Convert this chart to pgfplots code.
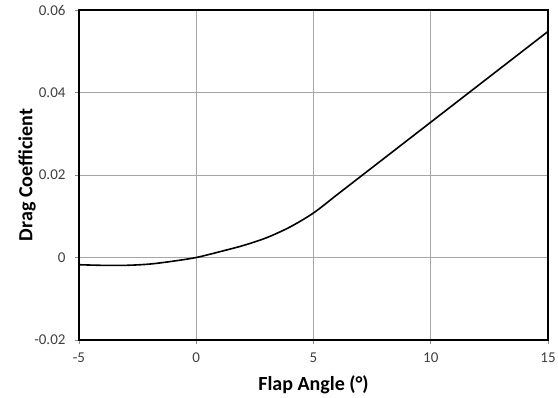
\documentclass[border=0pt]{standalone}
\usepackage{fontspec}
\setmainfont{Carlito}
\usepackage{pgfplots}
\pgfplotsset{compat=1.18}
\begin{document}
\begin{tikzpicture}
\useasboundingbox (-79bp,-58bp) rectangle (479bp,340bp);
\begin{axis}[
  scale only axis,
  width=469bp, height=330bp,
  xmin=-5, xmax=15, ymin=-0.02, ymax=0.06,
  xtick={-5,0,5,10,15},
  xticklabels={-5,0,5,10,15},
  ytick={-0.02,0,0.02,0.04,0.06},
  yticklabels={-0.02,0,0.02,0.04,0.06},
  xtick pos=left, ytick pos=left,
  tick align=outside,
  major tick length=4bp,
  tick style={black!45, line width=0.8bp},
  grid=major,
  grid style={black!35, line width=0.8bp},
  axis line style={black, line width=1.6bp},
  ticklabel style={font=\fontsize{15bp}{17bp}\selectfont, text=black!75},
  xticklabel style={yshift=-5bp},
  yticklabel style={xshift=-6bp},
  label style={font=\fontsize{20bp}{24bp}\selectfont\bfseries},
  xlabel={Flap Angle (°)},
  ylabel={Drag Coefficient},
  xlabel style={at={(axis description cs:0.5,-0.1364)}, anchor=center},
  ylabel style={at={(axis description cs:-0.1109,0.5)}, anchor=center},
]
\addplot[black, line width=1.6bp, smooth, tension=0.5] coordinates {
(-5,-0.00175) (-4,-0.0019) (-3,-0.0019) (-2,-0.0016) (-1,-0.0009)
(0,0.0) (1,0.0014) (2,0.0029) (3,0.0048) (4,0.0074) (5,0.0108)
(6,0.0152) (7,0.0196) (8,0.0240) (9,0.0284) (10,0.0328) (11,0.0372)
(12,0.0416) (13,0.0460) (14,0.0504) (15,0.0548)
};
\end{axis}
\end{tikzpicture}
\end{document}
